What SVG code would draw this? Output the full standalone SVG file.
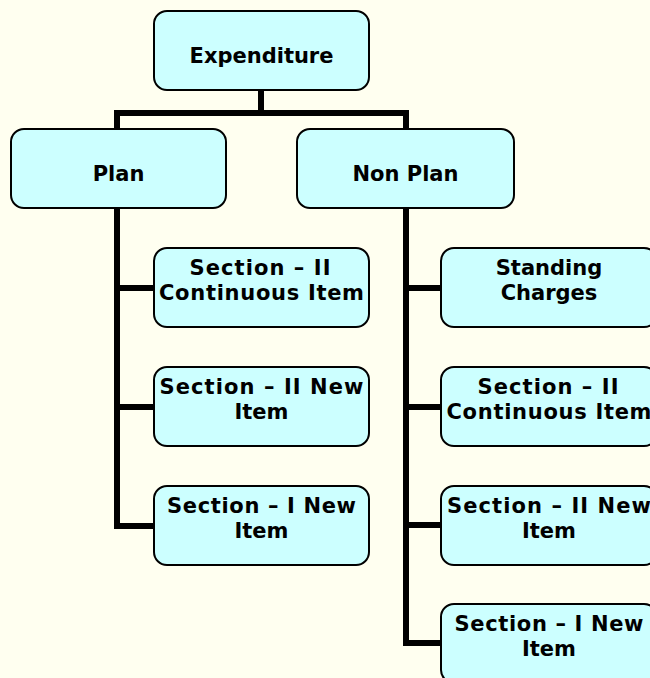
<svg xmlns="http://www.w3.org/2000/svg" width="650" height="678" viewBox="0 0 650 678">
<style>
.bg{fill:#FFFFF0}
.box{fill:#CCFFFF;stroke:#000;stroke-width:2}
.lbl{font-family:"DejaVu Sans","Verdana",sans-serif;font-weight:bold;font-size:21px;fill:#000;text-anchor:middle}
.conn{fill:none;stroke:#000;stroke-width:6;stroke-linejoin:miter;stroke-linecap:butt}
</style>
<rect class="bg" x="0" y="0" width="650" height="678"/>
<g id="connectors">
<path class="conn" d="M261 90 V113"/>
<path class="conn" d="M117 129 V113 H406 V129"/>
<path class="conn" d="M117 209 V526 H154"/>
<path class="conn" d="M117 288 H154"/>
<path class="conn" d="M117 407 H154"/>
<path class="conn" d="M406 209 V643 H441"/>
<path class="conn" d="M406 288 H441"/>
<path class="conn" d="M406 407 H441"/>
<path class="conn" d="M406 525 H441"/>
</g>
<g id="expenditure"><rect class="box" x="154" y="11" width="215" height="79" rx="13"/><text class="lbl" x="261.5" y="63">Expenditure</text></g>
<g id="plan"><rect class="box" x="11" y="129" width="215" height="79" rx="13"/><text class="lbl" x="118.5" y="181">Plan</text></g>
<g id="nonplan"><rect class="box" x="297" y="129" width="217" height="79" rx="13"/><text class="lbl" x="405.5" y="181">Non Plan</text></g>
<g id="plan-s2-cont"><rect class="box" x="154" y="248" width="215" height="79" rx="13"/><text class="lbl" x="260" y="275" textLength="141" lengthAdjust="spacing">Section – II</text><text class="lbl" x="261.5" y="300" textLength="205" lengthAdjust="spacing">Continuous Item</text></g>
<g id="plan-s2-new"><rect class="box" x="154" y="367" width="215" height="79" rx="13"/><text class="lbl" x="261.5" y="394" textLength="204" lengthAdjust="spacing">Section – II New</text><text class="lbl" x="261.5" y="419">Item</text></g>
<g id="plan-s1-new"><rect class="box" x="154" y="486" width="215" height="79" rx="13"/><text class="lbl" x="261.5" y="513" textLength="189" lengthAdjust="spacing">Section – I New</text><text class="lbl" x="261.5" y="538">Item</text></g>
<g id="np-standing"><rect class="box" x="441" y="248" width="216" height="79" rx="13"/><text class="lbl" x="549" y="275">Standing</text><text class="lbl" x="549" y="300">Charges</text></g>
<g id="np-s2-cont"><rect class="box" x="441" y="367" width="216" height="79" rx="13"/><text class="lbl" x="548" y="394" textLength="141" lengthAdjust="spacing">Section – II</text><text class="lbl" x="549" y="419" textLength="205" lengthAdjust="spacing">Continuous Item</text></g>
<g id="np-s2-new"><rect class="box" x="441" y="486" width="216" height="79" rx="13"/><text class="lbl" x="549" y="513" textLength="204" lengthAdjust="spacing">Section – II New</text><text class="lbl" x="549" y="538">Item</text></g>
<g id="np-s1-new"><rect class="box" x="441" y="604" width="216" height="79" rx="13"/><text class="lbl" x="549" y="631" textLength="189" lengthAdjust="spacing">Section – I New</text><text class="lbl" x="549" y="656">Item</text></g>
</svg>
